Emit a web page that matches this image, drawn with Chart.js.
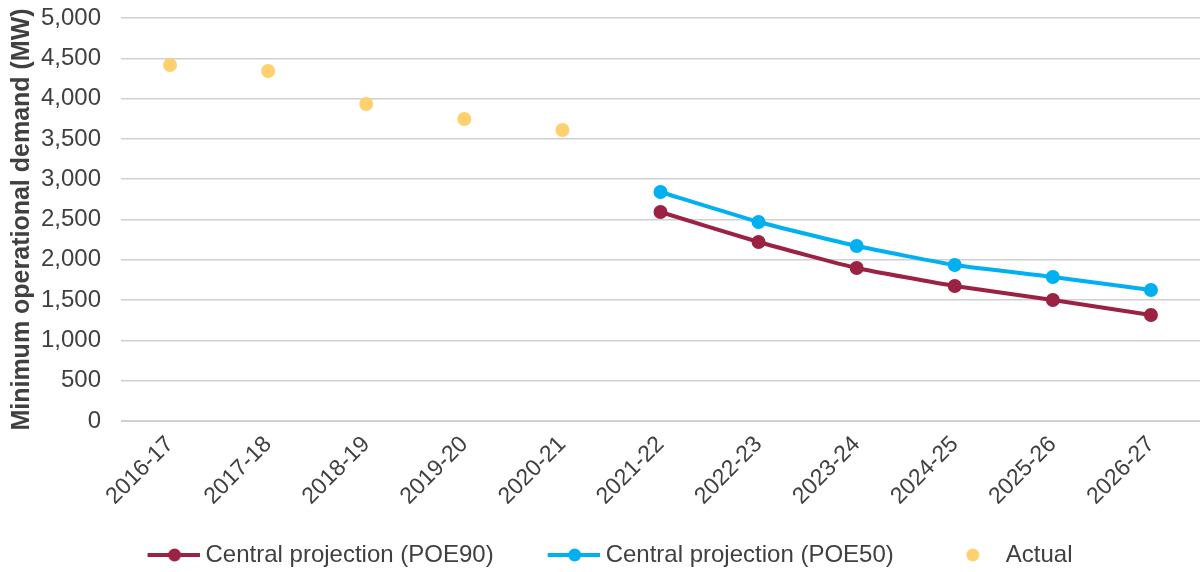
<!DOCTYPE html>
<html>
<head>
<meta charset="utf-8">
<script src="https://cdn.jsdelivr.net/npm/chart.js@4.4.0/dist/chart.umd.min.js"></script>
<style>
  html, body { margin: 0; padding: 0; background: #fff; }
  #wrap { width: 1200px; height: 572px; position: relative; }
</style>
</head>
<body>
<div id="wrap"><canvas id="chart"></canvas></div>
<script>
// Financial years on the x axis
const years = ["2016-17", "2017-18", "2018-19", "2019-20", "2020-21", "2021-22",
               "2022-23", "2023-24", "2024-25", "2025-26", "2026-27"];

// Minimum operational demand (MW)
const actual = [4417, 4342, 3933, 3747, 3610, null, null, null, null, null, null];
const poe90  = [null, null, null, null, null, 2593, 2221, 1898, 1675, 1501, 1315];
const poe50  = [null, null, null, null, null, 2841, 2469, 2171, 1935, 1787, 1625];

const seriesNames = ["Central projection (POE90)", "Central projection (POE50)", "Actual"];
const colors = ["#9B2242", "#00B0F0", "#FFD06E"];

const FONT = "'Liberation Sans', Arial, sans-serif";
const TEXT = "#404040";

// small canvas images used as legend markers (line + dot, or dot only)
function legendMarker(color, withLine) {
  const c = document.createElement('canvas');
  c.width = 78; c.height = 16;
  const g = c.getContext('2d');
  if (withLine) {
    g.strokeStyle = color; g.lineWidth = 4;
    g.beginPath(); g.moveTo(26, 8); g.lineTo(78, 8); g.stroke();
  }
  g.fillStyle = color;
  g.beginPath(); g.arc(withLine ? 53 : 51, 8, 6.5, 0, Math.PI * 2); g.fill();
  return c;
}
const markers = [legendMarker(colors[0], true), legendMarker(colors[1], true), legendMarker(colors[2], false)];

const ctx = document.getElementById('chart').getContext('2d');
new Chart(ctx, {
  type: 'line',
  data: {
    labels: years,
    datasets: [
      { label: seriesNames[0], data: poe90, borderColor: colors[0], backgroundColor: colors[0],
        borderWidth: 4, pointRadius: 7, pointHoverRadius: 7, pointBorderWidth: 0, tension: 0.15 },
      { label: seriesNames[1], data: poe50, borderColor: colors[1], backgroundColor: colors[1],
        borderWidth: 4, pointRadius: 7, pointHoverRadius: 7, pointBorderWidth: 0, tension: 0.15 },
      { label: seriesNames[2], data: actual, borderColor: colors[2], backgroundColor: colors[2],
        showLine: false, pointRadius: 7, pointHoverRadius: 7, pointBorderWidth: 0 }
    ]
  },
  options: {
    responsive: true,
    maintainAspectRatio: false,
    animation: false,
    layout: { autoPadding: false, padding: { top: 18, right: 0, left: 0, bottom: 0 } },
    scales: {
      x: {
        offset: true,
        grid: { display: false },
        border: { display: true, color: '#D0D0D0' },
        ticks: {
          color: TEXT, font: { family: FONT, size: 23 },
          maxRotation: 45, minRotation: 45, autoSkip: false, padding: 2
        },
        afterFit: (scale) => { scale.height = 88; scale.paddingRight = 0; }
      },
      y: {
        min: 0, max: 5000,
        grid: { color: '#D0D0D0', lineWidth: 1.5, drawTicks: false },
        border: { display: false },
        ticks: {
          stepSize: 500, color: TEXT, padding: 20,
          font: { family: FONT, size: 24 },
          callback: (v) => v.toLocaleString('en-US')
        },
        title: {
          display: true, text: 'Minimum operational demand (MW)', color: TEXT,
          font: { family: FONT, size: 25, weight: 'bold' }, padding: { top: 7, bottom: 0 }
        },
        afterFit: (scale) => { scale.width = 121; scale.paddingTop = 0; }
      }
    },
    plugins: {
      legend: {
        position: 'bottom',
        maxHeight: 63,
        labels: {
          usePointStyle: true,
          pointStyleWidth: 66,
          padding: 34,
          color: TEXT,
          font: { family: FONT, size: 24 },
          generateLabels: (chart) => {
            const items = Chart.defaults.plugins.legend.labels.generateLabels(chart);
            items.forEach((it, i) => { it.pointStyle = markers[i]; it.lineWidth = 0; });
            return items;
          }
        }
      },
      tooltip: { enabled: false }
    }
  }
});
</script>
</body>
</html>
